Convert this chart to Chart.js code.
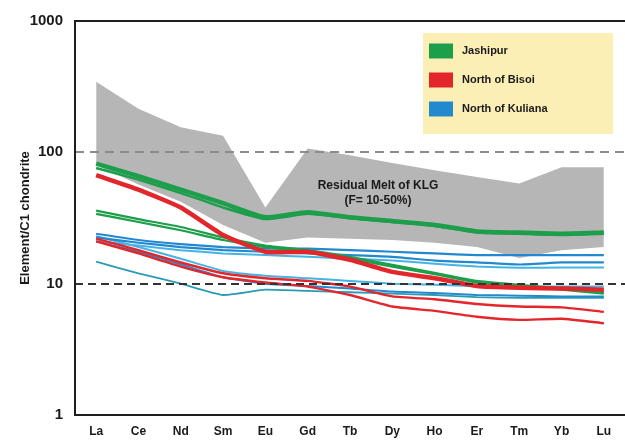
<!DOCTYPE html>
<html>
<head>
<meta charset="utf-8">
<script src="https://cdn.jsdelivr.net/npm/chart.js@4/dist/chart.umd.min.js"></script>
<style>
  html, body { margin: 0; padding: 0; background: #ffffff; overflow: hidden; }
  canvas { display: block; }
</style>
</head>
<body>
<canvas id="ree" width="625" height="440"></canvas>
<script>
// Rare earth elements, chondrite-normalised
const elements = ['La', 'Ce', 'Nd', 'Sm', 'Eu', 'Gd', 'Tb', 'Dy', 'Ho', 'Er', 'Tm', 'Yb', 'Lu'];
const yTicks = [1, 10, 100, 1000];
const yTickLabels = ['1', '10', '100', '1000'];
const refLevels = [100, 10];

// Residual melt field (F = 10-50%)
const meltUpper = [345, 215, 155, 134, 38, 107, 95, 83, 73, 65, 58, 77, 77];
const meltLower = [80, 57, 42, 28, 20.5, 22.5, 22, 21.5, 20.5, 19, 15.7, 18, 19];

// Jashipur
const jashipurA = [82, 66, 52, 41, 32, 35, 32, 30, 28, 25, 24.5, 24, 24.5];
const jashipurB = [76, 62, 49, 38, 31, 34, 31.5, 29.5, 27.5, 24.5, 24, 23.5, 24];
const jashipurC = [36, 31, 27, 22.5, 19.5, 18, 16, 13.9, 12.1, 10.5, 9.8, 9.2, 8.6];
const jashipurD = [34, 29.5, 25.5, 21.5, 19, 17.5, 15.5, 13.5, 11.8, 10.2, 9.5, 9, 8.4];

// North of Bisoi
const bisoiA = [67, 52, 38, 23.5, 17.5, 17.5, 15.2, 12.3, 11, 9.6, 9.3, 9.2, 9];
const bisoiB = [22, 18, 14.5, 12, 11, 10.5, 9.5, 8, 7.6, 7, 6.7, 6.6, 6.1];
const bisoiC = [21, 17, 13.5, 11.2, 10.2, 9.5, 8.2, 6.7, 6.2, 5.6, 5.3, 5.4, 5.0];

// North of Kuliana
const kulianaA = [24, 21.5, 20, 19, 18.5, 18.5, 18, 17.5, 17, 16.5, 16.5, 16.5, 16.5];
const kulianaB = [22.5, 20.5, 19, 18, 17.5, 17, 16.5, 16, 15, 14.5, 14, 14.5, 14.5];
const kulianaC = [21, 19.5, 18, 17, 16.5, 16, 15.5, 15, 14.2, 13.5, 13.2, 13.3, 13.3];
const kulianaD = [23, 19, 15.5, 12.5, 11.5, 11, 10.5, 10, 9.8, 9.6, 9.5, 9.5, 9.5];
const kulianaE = [21, 17.5, 14, 11.2, 10, 9.6, 9.2, 8.7, 8.5, 8.2, 8.1, 8, 8];
const kulianaF = [14.7, 12, 10, 8.2, 9, 8.8, 8.6, 8.4, 8.2, 7.9, 7.8, 7.8, 7.8];

const groups = ['Jashipur', 'North of Bisoi', 'North of Kuliana'];
const groupColors = ['#1c9e4b', '#e3262b', '#2389cf'];
const meltLabel = ['Residual Melt of KLG', '(F= 10-50%)'];

const GREEN = '#1c9e4b', RED = '#e3262b', BLUE = '#2389cf', CYAN = '#45b3e4', TEAL = '#2a9bb5';

function line(data, color, width, order) {
  return {
    data: data, borderColor: color, borderWidth: width, backgroundColor: color,
    pointRadius: 0, tension: 0.15, fill: false, order: order
  };
}

const datasets = [
  { data: meltLower, borderWidth: 0, borderColor: 'rgba(0,0,0,0)', pointRadius: 0, fill: false, order: 90 },
  { data: meltUpper, borderWidth: 0, borderColor: 'rgba(0,0,0,0)', backgroundColor: '#b6b6b6',
    pointRadius: 0, fill: '-1', order: 89 },
  line(kulianaF, TEAL, 1.8, 20),
  line(kulianaE, BLUE, 2, 19),
  line(kulianaD, CYAN, 2, 18),
  line(kulianaC, CYAN, 2, 17),
  line(kulianaB, BLUE, 2.2, 16),
  line(kulianaA, BLUE, 2.2, 15),
  line(bisoiC, RED, 2.4, 12),
  line(bisoiB, RED, 2.4, 11),
  line(jashipurD, GREEN, 2.2, 9),
  line(jashipurC, GREEN, 2.2, 8),
  line(bisoiA, RED, 4.5, 6),
  line(jashipurB, GREEN, 2.4, 4),
  line(jashipurA, GREEN, 4.5, 3)
];

const decor = {
  id: 'decor',
  afterDatasetsDraw(chart) {
    const ctx = chart.ctx;
    const a = chart.chartArea;
    const y = chart.scales.y;
    ctx.save();
    // dashed reference levels
    refLevels.forEach(function (v, i) {
      const py = Math.round(y.getPixelForValue(v));
      ctx.beginPath();
      ctx.setLineDash(i === 0 ? [9, 6] : [8, 5]);
      ctx.strokeStyle = i === 0 ? '#8c8c8c' : '#333333';
      ctx.lineWidth = 2;
      ctx.moveTo(a.left, py);
      ctx.lineTo(a.right, py);
      ctx.stroke();
    });
    ctx.setLineDash([]);
    // frame
    ctx.strokeStyle = '#1e1e1e';
    ctx.lineWidth = 2;
    ctx.beginPath();
    ctx.moveTo(a.right, a.top);
    ctx.lineTo(a.left, a.top);
    ctx.lineTo(a.left, a.bottom);
    ctx.lineTo(a.right, a.bottom);
    ctx.stroke();

    // label of the melt field
    ctx.fillStyle = '#1a1a1a';
    ctx.font = 'bold 12px "Liberation Sans", Arial, sans-serif';
    ctx.textAlign = 'center';
    ctx.textBaseline = 'middle';
    ctx.fillText(meltLabel[0], 378, 186);
    ctx.fillText(meltLabel[1], 378, 201);

    // legend
    ctx.fillStyle = '#fbefb6';
    ctx.fillRect(423, 33, 190, 101);
    ctx.font = 'bold 11px "Liberation Sans", Arial, sans-serif';
    ctx.textAlign = 'left';
    groups.forEach(function (g, i) {
      const cy = 51 + i * 29;
      ctx.fillStyle = groupColors[i];
      ctx.fillRect(429, cy - 7.5, 24, 15);
      ctx.fillStyle = '#1a1a1a';
      ctx.fillText(g, 462, cy);
    });
    ctx.restore();
  }
};

new Chart(document.getElementById('ree'), {
  type: 'line',
  data: { labels: elements, datasets: datasets },
  options: {
    responsive: false,
    devicePixelRatio: 1,
    animation: false,
    layout: { padding: { top: 21, right: 0, left: 0, bottom: 0 } },
    plugins: { legend: { display: false }, tooltip: { enabled: false } },
    scales: {
      x: {
        type: 'category',
        offset: true,
        grid: { display: false, drawTicks: false },
        border: { display: false },
        ticks: {
          color: '#1a1a1a', padding: 9, maxRotation: 0, autoSkip: false,
          font: { family: '"Liberation Sans", Arial, sans-serif', size: 12, weight: 'bold' }
        },
        afterFit: function (s) { s.height = 25; }
      },
      y: {
        type: 'logarithmic',
        min: 1, max: 1000,
        grid: { display: false, drawTicks: false },
        border: { display: false },
        afterBuildTicks: function (s) { s.ticks = yTicks.map(function (v) { return { value: v }; }); },
        ticks: {
          color: '#1a1a1a', padding: 12,
          font: { family: '"Liberation Sans", Arial, sans-serif', size: 15, weight: 'bold' },
          callback: function (v, i) { return yTickLabels[i]; }
        },
        title: {
          display: true, text: 'Element/C1 chondrite', color: '#1a1a1a',
          padding: { top: 18, bottom: 0 },
          font: { family: '"Liberation Sans", Arial, sans-serif', size: 13, weight: 'bold' }
        },
        afterFit: function (s) { s.width = 75; }
      }
    }
  },
  plugins: [decor]
});
</script>
</body>
</html>
